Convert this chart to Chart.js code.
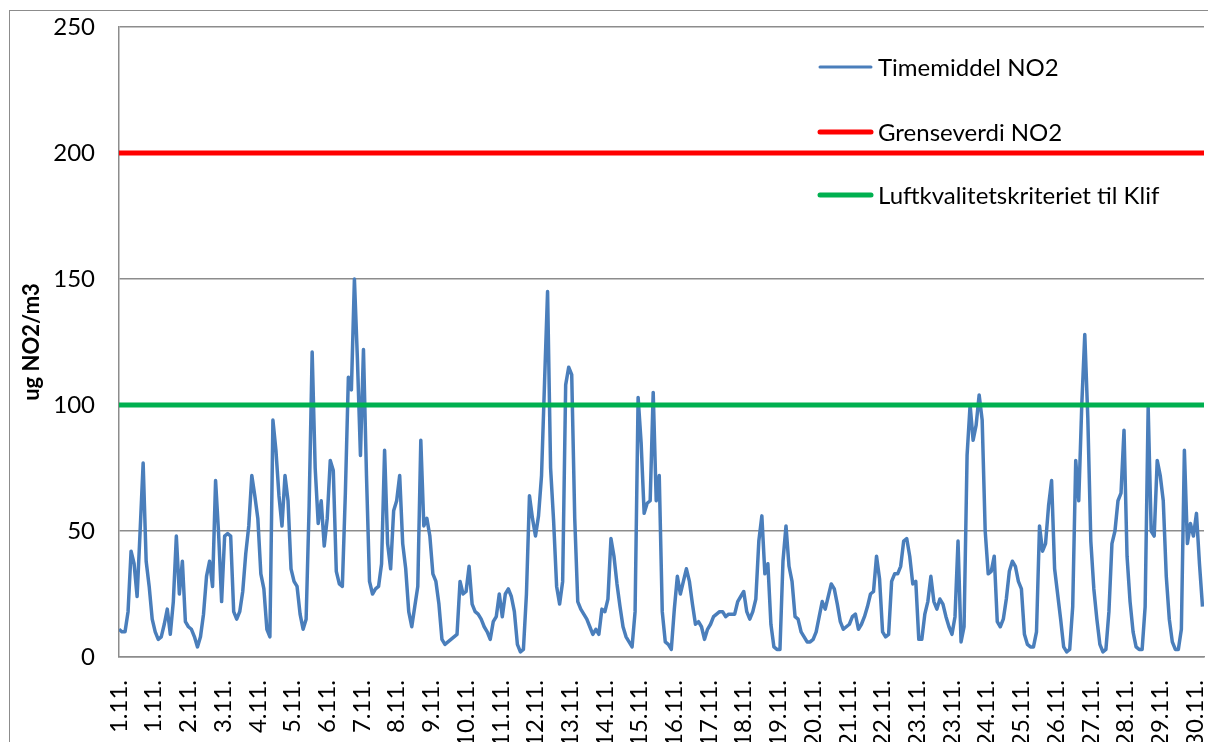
<!DOCTYPE html>
<html>
<head>
<meta charset="utf-8">
<script src="https://cdn.jsdelivr.net/npm/chart.js@4.4.0/dist/chart.umd.min.js"></script>
<style>
  html, body { margin: 0; padding: 0; background: #fff; }
</style>
</head>
<body>
<canvas id="myChart" width="1208" height="742"></canvas>
<script>
// Date labels along the x axis, one every 23 hours
const tickLabels = [
  "1.11.", "1.11.", "2.11.", "3.11.", "4.11.", "5.11.", "6.11.", "7.11.",
  "8.11.", "9.11.", "10.11.", "11.11.", "12.11.", "13.11.", "14.11.", "15.11.",
  "16.11.", "17.11.", "18.11.", "19.11.", "20.11.", "21.11.", "22.11.", "23.11.",
  "23.11.", "24.11.", "25.11.", "26.11.", "27.11.", "28.11.", "29.11.", "30.11."
];
const tickEvery = 23;
// NO2 hourly mean, read every 2nd hour (ug/m3)
const hourStep = 2;
const no2Values = [
  11, 10, 10, 18, 42, 37, 24, 50, 77, 38,
  28, 15, 10, 7, 8, 13, 19, 9, 22, 48,
  25, 38, 14, 12, 11, 8, 4, 8, 17, 32,
  38, 28, 70, 49, 22, 48, 49, 48, 18, 15,
  18, 26, 41, 52, 72, 64, 55, 33, 27, 11,
  8, 94, 82, 64, 52, 72, 62, 35, 30, 28,
  17, 11, 15, 60, 121, 75, 53, 62, 44, 55,
  78, 74, 34, 29, 28, 65, 111, 106, 150, 118,
  80, 122, 72, 30, 25, 27, 28, 37, 82, 45,
  35, 58, 62, 72, 45, 35, 18, 12, 20, 28,
  86, 52, 55, 48, 33, 30, 21, 7, 5, 6,
  7, 8, 9, 30, 25, 26, 36, 21, 18, 17,
  15, 12, 10, 7, 14, 16, 25, 16, 25, 27,
  24, 18, 5, 2, 3, 25, 64, 55, 48, 56,
  72, 109, 145, 75, 54, 28, 21, 30, 108, 115,
  112, 55, 22, 19, 17, 15, 12, 9, 11, 9,
  19, 18, 23, 47, 40, 29, 20, 12, 8, 6,
  4, 18, 103, 85, 57, 61, 62, 105, 62, 72,
  18, 6, 5, 3, 19, 32, 25, 30, 35, 30,
  21, 13, 14, 12, 7, 11, 13, 16, 17, 18,
  18, 16, 17, 17, 17, 22, 24, 26, 18, 15,
  18, 23, 46, 56, 33, 37, 13, 4, 3, 3,
  38, 52, 36, 30, 16, 15, 10, 8, 6, 6,
  7, 10, 16, 22, 19, 24, 29, 27, 21, 14,
  11, 12, 13, 16, 17, 11, 13, 16, 20, 25,
  26, 40, 31, 10, 8, 9, 30, 33, 33, 36,
  46, 47, 40, 29, 30, 7, 7, 17, 22, 32,
  22, 19, 23, 21, 16, 12, 9, 16, 46, 6,
  12, 80, 100, 86, 92, 104, 94, 50, 33, 34,
  40, 14, 12, 15, 23, 34, 38, 36, 30, 27,
  9, 5, 4, 4, 10, 52, 42, 45, 60, 70,
  35, 25, 15, 4, 2, 3, 20, 78, 62, 100,
  128, 95, 46, 27, 15, 5, 2, 3, 18, 45,
  50, 62, 65, 90, 40, 22, 10, 4, 3, 3,
  20, 99, 50, 48, 78, 72, 62, 32, 15, 6,
  3, 3, 11, 82, 45, 53, 48, 57, 37, 20
];
const lastHour = 719;
const limitValue = 200; // Grenseverdi NO2
const klifValue = 100;  // Luftkvalitetskriteriet til Klif
const seriesNames = ["Timemiddel NO2", "Grenseverdi NO2", "Luftkvalitetskriteriet til Klif"];

const FONT = "Lato";
const GRID = "#8c8c8c";

// frame, white background and the legend inside the plot
const frameAndLegend = {
  id: "frameAndLegend",
  beforeDraw(chart) {
    const ctx = chart.ctx;
    ctx.save();
    ctx.fillStyle = "#fff";
    ctx.fillRect(0, 0, chart.width, chart.height);
    ctx.strokeStyle = GRID;
    ctx.lineWidth = 1;
    ctx.strokeRect(9.5, 10.5, chart.width + 20, chart.height + 20);
    ctx.restore();
  },
  afterDraw(chart) {
    const ctx = chart.ctx;
    const rows = [67, 132, 195];
    ctx.save();
    ctx.font = "24px " + FONT;
    ctx.textBaseline = "middle";
    ctx.fillStyle = "#000";
    ctx.lineCap = "round";
    chart.data.datasets.forEach((ds, i) => {
      ctx.strokeStyle = ds.borderColor;
      ctx.lineWidth = i === 0 ? 3 : 5;
      ctx.beginPath();
      ctx.moveTo(820, rows[i]);
      ctx.lineTo(871, rows[i]);
      ctx.stroke();
      ctx.fillText(ds.label, 878, rows[i] + 1);
    });
    ctx.restore();
  }
};

const ctx = document.getElementById("myChart").getContext("2d");
Chart.defaults.font.family = FONT;
Chart.defaults.color = "#000";

const myChart = new Chart(ctx, {
  type: "line",
  data: {
    datasets: [
      {
        label: seriesNames[0],
        data: no2Values.map((v, i) => ({ x: i * hourStep, y: v })),
        borderColor: "#4a7ebb",
        borderWidth: 3.5,
        borderJoinStyle: "round",
        pointRadius: 0,
        order: 3
      },
      {
        label: seriesNames[1],
        data: [{ x: 0, y: limitValue }, { x: lastHour, y: limitValue }],
        borderColor: "#ff0000",
        borderWidth: 5,
        pointRadius: 0,
        order: 2
      },
      {
        label: seriesNames[2],
        data: [{ x: 0, y: klifValue }, { x: lastHour, y: klifValue }],
        borderColor: "#00b050",
        borderWidth: 5,
        pointRadius: 0,
        order: 1
      }
    ]
  },
  options: {
    responsive: false,
    animation: false,
    layout: { padding: { top: 27, right: 4, left: 0, bottom: 0 } },
    plugins: {
      legend: { display: false },
      tooltip: { enabled: false }
    },
    scales: {
      x: {
        type: "linear",
        min: 0,
        max: lastHour,
        grid: { display: false },
        border: { display: true, color: GRID, width: 1.5 },
        afterBuildTicks: (scale) => {
          scale.ticks = tickLabels.map((_, k) => ({ value: k * tickEvery }));
        },
        afterFit: (scale) => {
          scale.height = 85;
          scale.paddingLeft = 0;
          scale.paddingRight = 0;
        },
        ticks: {
          autoSkip: false,
          maxRotation: 90,
          minRotation: 90,
          padding: 15,
          font: { size: 24 },
          callback: (value) => tickLabels[Math.round(value / tickEvery)]
        }
      },
      y: {
        min: 0,
        max: 250,
        grid: { color: GRID, lineWidth: 1.5, drawTicks: false },
        border: { display: true, color: GRID, width: 1.5 },
        afterFit: (scale) => {
          scale.width = 119;
          scale.paddingTop = 0;
          scale.paddingBottom = 0;
        },
        ticks: {
          stepSize: 50,
          padding: 24,
          font: { size: 24 }
        },
        title: {
          display: true,
          text: "ug NO2/m3",
          font: { size: 22, weight: "bold" },
          padding: { top: 19, bottom: 0 }
        }
      }
    }
  },
  plugins: [frameAndLegend]
});
</script>
</body>
</html>
